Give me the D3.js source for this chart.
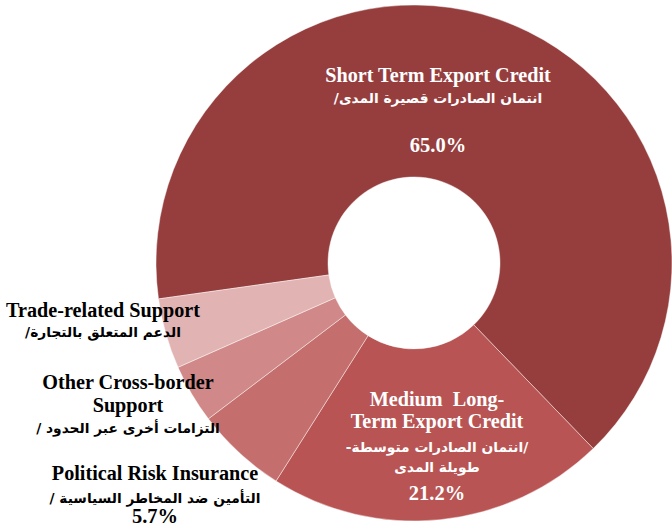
<!DOCTYPE html>
<html>
<head>
<meta charset="utf-8">
<script src="https://cdn.jsdelivr.net/npm/d3@7/dist/d3.min.js"></script>
<style>
  body { margin: 0; background: #fff; }
  .en { font-family: "Liberation Serif", "Times New Roman", serif; font-weight: bold; white-space: pre; }
  .ar { font-family: "DejaVu Sans", sans-serif; font-weight: bold; }
</style>
</head>
<body>
<div id="donut"></div>
<script>
// data
var categories = ["Short Term Export Credit", "Medium Long-Term Export Credit", "Political Risk Insurance", "Other Cross-border Support", "Trade-related Support"];
var shares = [65.0, 21.2, 5.7, 3.7, 4.4];
var showPct = [true, true, true, false, false];
var colors = ["#963e3e", "#b85453", "#c46f6d", "#d08988", "#e1b4b3"];

// label lines: [text, kind]  kind: en / ar / pct / blank
var labelLines = [
  [["Short Term Export Credit", "en"], ["انتمان الصادرات قصيرة المدى/", "ar"], ["", "blank"], ["pct", "pct"]],
  [["Medium  Long-", "en"], ["Term Export Credit", "en"], ["/انتمان الصادرات متوسطة-", "ar"], ["طويلة المدى", "ar"], ["pct", "pct"]],
  [["Political Risk Insurance", "en"], ["التأمين ضد المخاطر السياسية /", "ar"], ["pct", "pct"]],
  [["Other Cross-border", "en"], ["Support", "en"], ["التزامات أخرى عبر الحدود /", "ar"]],
  [["Trade-related Support", "en"], ["الدعم المتعلق بالتجارة/", "ar"]]
];

// layout (pixel positions of label blocks, baselines per line)
var labelLayout = [
  { x: 438, ys: [82, 103, 0, 152], fill: "#fff" },
  { x: 437, ys: [406, 428, 452, 472, 500], fill: "#fff" },
  { x: 155, ys: [480, 503, 523], fill: "#000" },
  { x: 128, ys: [389, 412, 433], fill: "#000" },
  { x: 103, ys: [317, 337], fill: "#000" }
];

var width = 672,
    height = 531,
    cx = 414,
    cy = 263,
    outerR = 258,
    innerR = 86;

var svg = d3.select("#donut")
    .append("svg")
    .attr("width", width)
    .attr("height", height);

var startDeg = -98;
var pie = d3.pie()
    .sort(null)
    .value(function(d) { return d; })
    .startAngle(startDeg * Math.PI / 180)
    .endAngle((startDeg + 360) * Math.PI / 180);

var arc = d3.arc()
    .innerRadius(innerR)
    .outerRadius(outerR);

var g = svg.append("g")
    .attr("transform", "translate(" + cx + "," + cy + ")");

g.selectAll("path")
  .data(pie(shares))
  .enter().append("path")
    .attr("d", arc)
    .attr("fill", function(d, i) { return colors[i]; })
    .attr("stroke", "rgba(255,255,255,0.55)")
    .attr("stroke-width", 0.8);

var fmt = d3.format(".1f");

labelLines.forEach(function(lines, i) {
  var lay = labelLayout[i];
  lines.forEach(function(ln, j) {
    if (ln[1] === "blank") return;
    if (ln[1] === "pct" && !showPct[i]) return;
    var t = svg.append("text")
        .attr("x", lay.x)
        .attr("y", lay.ys[j])
        .attr("text-anchor", "middle")
        .attr("fill", lay.fill);
    if (ln[1] === "ar") {
      t.attr("class", "ar")
        .attr("direction", "rtl")
        .style("font-size", "13.8px")
        .text(ln[0]);
    } else if (ln[1] === "pct") {
      t.attr("class", "en")
        .style("font-size", "20.5px")
        .text(fmt(shares[i]) + "%");
    } else {
      t.attr("class", "en")
        .style("font-size", "20.2px")
        .text(ln[0]);
    }
  });
});
</script>
</body>
</html>
